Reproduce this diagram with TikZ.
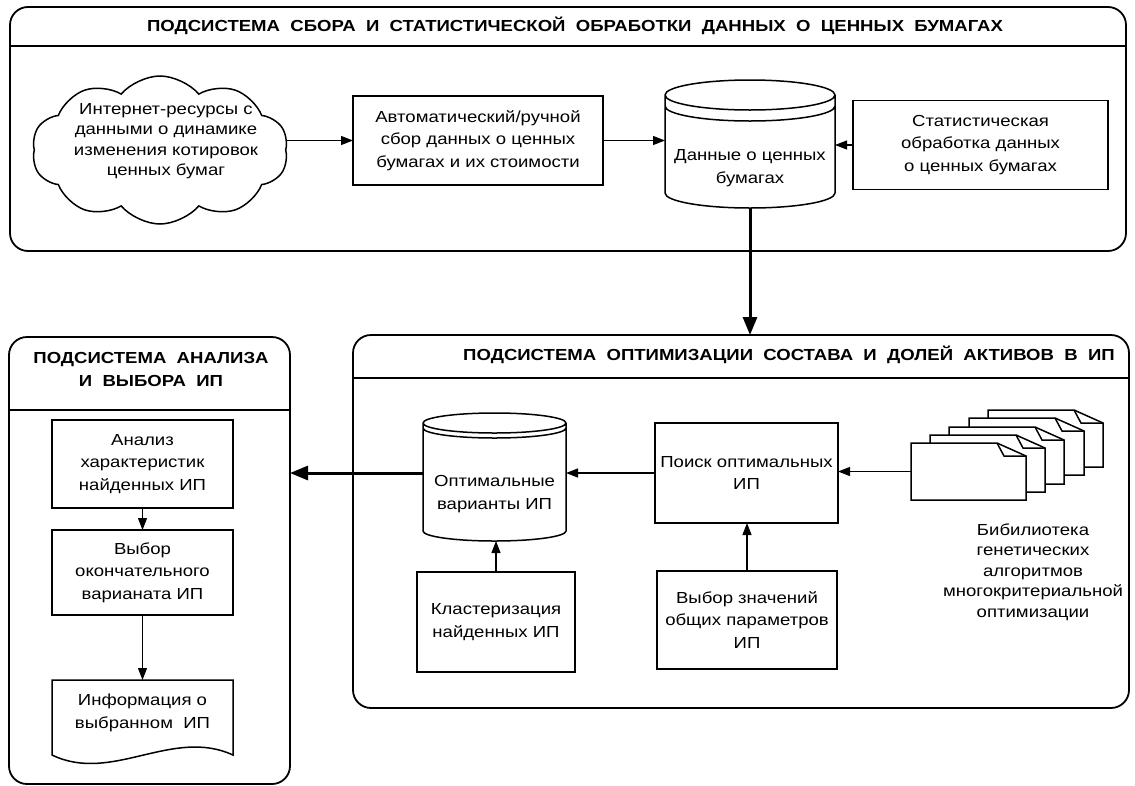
\documentclass[tikz,border=0pt]{standalone}
\usepackage{fontspec}
\setmainfont{Liberation Sans}[FakeStretch=1.16]
\usetikzlibrary{arrows.meta,shapes.symbols,calc}
\newcommand\dbcyl[3]{% name, ry, gap
  \draw[shp] let \p1=(#1.north west), \p2=(#1.south east), \n1={(\x2-\x1)/2} in
    (\x1,\y1-#2) -- (\x1,\y2+#2) arc[start angle=180,end angle=360,x radius=\n1,y radius=#2]
    -- (\x2,\y1-#2) arc[start angle=0,end angle=180,x radius=\n1,y radius=#2] -- cycle
    (\x1,\y1-#2) arc[start angle=180,end angle=360,x radius=\n1,y radius=#2]
    (\x1,\y1-#2-#3) arc[start angle=180,end angle=360,x radius=\n1,y radius=#2];}
\newcommand\onedoc[2]{% left, top  (w=115, h=57)
  \draw[shp,fill=white] (#1,#2) -- ++(86,0) -- ++(29,13) -- ++(0,44) -- ++(-115,0) -- cycle;
  \draw[shp] (#1+86,#2) -- (#1+93,#2+13) -- (#1+115,#2+13);}
\begin{document}
\begin{tikzpicture}[x=1pt,y=-1pt,
  every node/.style={inner sep=0pt,outer sep=0pt},
  txt/.style={font=\fontsize{16}{20.5}\selectfont,align=center},
  btxt/.style={font=\fontsize{16}{22.5}\selectfont,align=center},
  hdr/.style={font=\bfseries\fontsize{16}{23}\selectfont,align=center},
  cont/.style={draw,line width=1.8pt,rounded corners=18pt},
  shp/.style={line width=1.5pt},
  bx/.style={draw,line width=1.5pt,btxt},
  ghost/.style={draw=none},
  arr/.style={line width=1.1pt,-{Triangle[length=12pt,width=9pt]}},
  thick arr/.style={line width=3pt,-{Triangle[length=18pt,width=14pt]}}]
\useasboundingbox (0,0) rectangle (1135,785);

% ---------- containers
\node[cont,minimum width=1116,minimum height=244] (sub1) at (568,129) {};
\draw[line width=1.8pt] (sub1.west |- 0,46) -- (sub1.east |- 0,46);
\node[hdr] (h1) at (575,26) {ПОДСИСТЕМА\ \ СБОРА\ \ И\ \ СТАТИСТИЧЕСКОЙ\ \ ОБРАБОТКИ\ \ ДАННЫХ\ \ О\ \ ЦЕННЫХ\ \ БУМАГАХ};

\node[cont,minimum width=776,minimum height=373] (sub2) at (741,521.5) {};
\draw[line width=1.8pt] (sub2.west |- 0,378) -- (sub2.east |- 0,378);
\node[hdr] (h2) at (789,355) {ПОДСИСТЕМА\ \ ОПТИМИЗАЦИИ\ \ СОСТАВА\ \ И\ \ ДОЛЕЙ\ \ АКТИВОВ\ \ В\ \ ИП};

\node[cont,minimum width=281,minimum height=447] (sub3) at (149.5,560.5) {};
\draw[line width=1.8pt] (sub3.west |- 0,410) -- (sub3.east |- 0,410);
\node[hdr] (h3) at (151,369) {ПОДСИСТЕМА\ \ АНАЛИЗА\\И\ \ ВЫБОРА\ \ ИП};

% ---------- top subsystem
\node[cloud,cloud puffs=10,cloud puff arc=100,cloud ignores aspect,draw,line width=1.5pt,
      minimum width=256,minimum height=148] (cloud) at (160,150) {};
\node[txt] (cloudtxt) at (166,141) {Интернет-ресурсы с\\данными о динамике\\изменения котировок\\ценных бумаг};

\node[bx,minimum width=250,minimum height=89] (box1) at (478,140.5)
  {Автоматический/ручной\\сбор данных о ценных\\бумагах и их стоимости};

\node[ghost,minimum width=170,minimum height=128] (db1) at (750,144) {};
\dbcyl{db1}{15pt}{11pt}
\node[btxt] (db1txt) at (750,168) {Данные о ценных\\бумагах};

\node[bx,minimum width=255,minimum height=89] (box2) at (980.5,145)
  {Статистическая\\обработка данных\\о ценных бумагах};

\draw[arr] (box1.west -| cloud.east) -- (box1.west);
\draw[arr] (box1.east) -- (box1.east -| db1.west);
\draw[arr] (box2.west) -- (box2.west -| db1.east);
\draw[thick arr] (db1.south) -- (db1.south |- sub2.north);

% ---------- optimisation subsystem
\node[ghost,minimum width=143,minimum height=128] (db2) at (494.5,477) {};
\dbcyl{db2}{10pt}{5pt}
\node[btxt] (db2txt) at (494.5,494) {Оптимальные\\варианты ИП};

\node[bx,minimum width=183,minimum height=100] (box6) at (746.5,473) {Поиск оптимальных\\ИП};
\node[bx,minimum width=158,minimum height=100] (box7) at (496,622) {Кластеризация\\найденных ИП};
\node[bx,minimum width=180,minimum height=98] (box8) at (747,620) {Выбор значений\\общих параметров\\ИП};

\onedoc{988}{410}
\onedoc{969}{418}
\onedoc{949}{427}
\onedoc{930}{435}
\onedoc{911}{443}
\node[ghost,minimum width=115,minimum height=57] (fdoc) at (968.5,471.5) {};
\node[txt] (libtxt) at (1033,572) {Бибилиотека\\генетических\\алгоритмов\\многокритериальной\\оптимизации};

\draw[arr] (fdoc.west) -- (fdoc.west -| box6.east);
\draw[arr] (box6.west) -- (box6.west -| db2.east);
\draw[arr] (box7.north) -- (box7.north |- db2.south);
\draw[arr] (box8.north) -- (box8.north |- box6.south);
\draw[thick arr] (db2.west |- box6.west) -- (box6.west -| sub3.east);

% ---------- analysis subsystem
\node[bx,minimum width=181,minimum height=88] (box3) at (142.5,464) {Анализ\\характеристик\\найденных ИП};
\node[bx,minimum width=181,minimum height=85] (box4) at (142.5,572.5) {Выбор\\окончательного\\варианата ИП};
\node[ghost,minimum width=181,minimum height=86] (doc5) at (142.5,723) {};
\draw[shp] (doc5.north west) -- (doc5.north east) -- (233,755)
   .. controls (172,727) and (112,784) .. (52,755) -- cycle;
\node[btxt] (doc5txt) at (142.5,713) {Информация о\\выбранном\ \ ИП};

\draw[arr] (box3.south) -- (box4.north);
\draw[arr] (box4.south) -- (doc5.north);
\end{tikzpicture}
\end{document}
